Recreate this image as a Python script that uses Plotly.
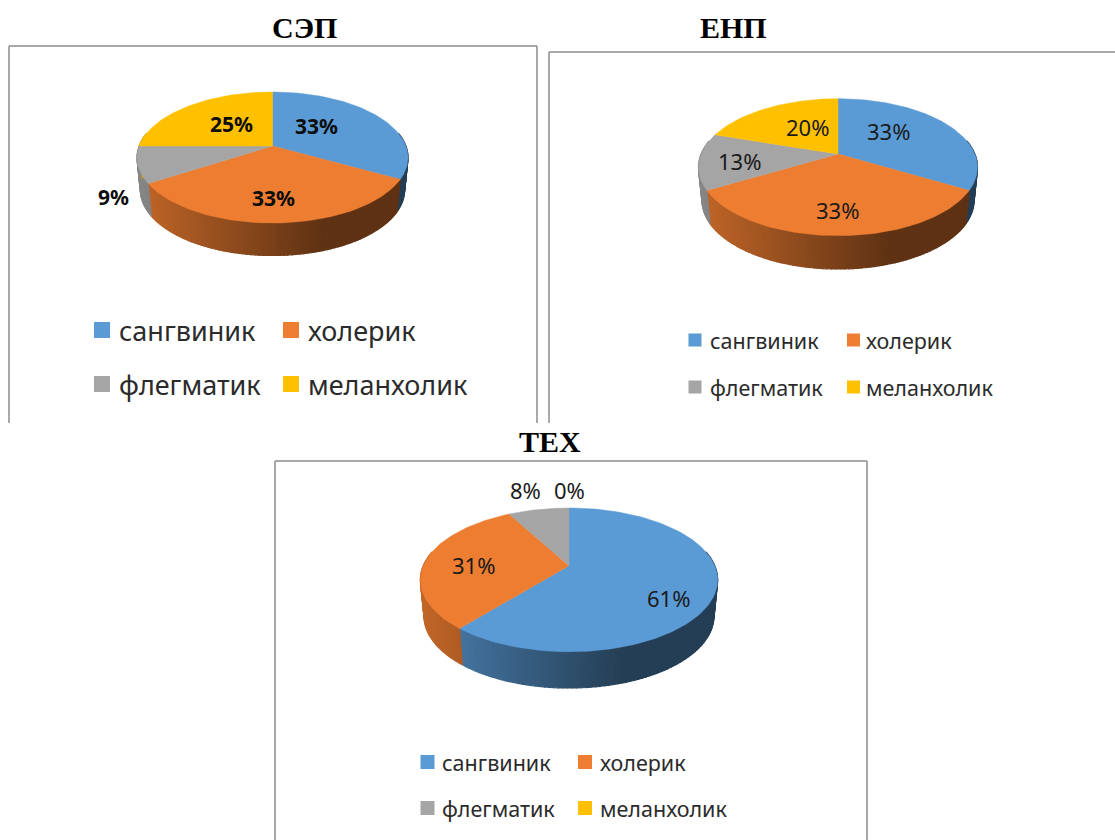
import math
import plotly.graph_objects as go

# ---- data ----
categories = ["сангвиник", "холерик", "флегматик", "меланхолик"]
sep_values = [33, 33, 9, 25]
enp_values = [33.3, 33.3, 13.3, 20]
tex_values = [61, 31, 8, 0]
colors = ["#5B9BD5", "#ED7D31", "#A5A5A5", "#FFC000"]
titles = ["СЭП", "ЕНП", "ТЕХ"]


def rgb(hexc, f):
    return "rgb(%d,%d,%d)" % tuple(round(int(hexc[i:i + 2], 16) * f) for i in (1, 3, 5))


class Pie:
    def __init__(s, values, title, cx, apex, xmin, xmax, top, front, bottom, **kw):
        s.values, s.title, s.cx, s.apex = values, title, cx, apex
        s.xmin, s.xmax = xmin, xmax
        back, fr = apex - top, front - apex
        s.k = (fr - back) / (fr + back)
        s.a = back * (1 + s.k)
        s.rx = (xmax - xmin) / 2
        s.b = s.rx * math.sqrt(1 - s.k ** 2)
        s.depth = bottom - front
        s.__dict__.update(kw)

    def point(s, deg, lower=False):
        th = math.radians(deg)
        u, v = math.sin(th), math.cos(th)
        w = 1 + s.k * v
        x, y = s.cx + s.b * u / w, s.apex - s.a * v / w
        if lower:
            x, y = s.cx + 0.975 * (x - s.cx), y + s.depth
        return x, y

    def shade(s, x):
        t = (x - s.xmin) / (s.xmax - s.xmin)
        return max(0.40, 0.82 - (0.42 / 0.68) * t)


pies = [
    Pie(sep_values, titles[0], 272.5, 146, 137, 408, 92, 223, 255.5,
        title_xy=(304, 27), title_size=30, label_size=21, label_color="#0d0d0d",
        label_bold=True,
        label_xy=[(316, 126), (273, 198), (113, 197), (231, 124)],
        legend_size=27, sw=16, legend_rows=(330, 384),
        legend_sw=(102, 291), legend_tx=(117, 306)),
    Pie(enp_values, titles[1], 838, 154, 698.5, 977.5, 98.7, 235.7, 269,
        title_xy=(733, 27), title_size=30, label_size=22, label_color="#1a1a1a",
        label_bold=False,
        label_xy=[(888, 131), (837.5, 210), (739, 161), (807.5, 127)],
        legend_size=21.5, sw=13, legend_rows=(340, 387),
        legend_sw=(695, 853.5), legend_tx=(707.5, 864)),
    Pie(tex_values, titles[2], 569, 565.7, 420.7, 718, 508, 651.7, 688,
        title_xy=(550, 441.5), title_size=30, label_size=22, label_color="#1a1a1a",
        label_bold=False,
        label_xy=[(668, 598), (473.5, 565), (525, 490), (569, 490)],
        legend_size=21.5, sw=14, legend_rows=(762, 808),
        legend_sw=(427.5, 585), legend_tx=(439.5, 597.5)),
]

fig = go.Figure()
annotations = []
SANS = "Noto Sans"

for p in pies:
    total = sum(p.values)
    start = 0.0
    spans = []
    for v in p.values:
        end = start + 360.0 * v / total
        spans.append((start, end))
        start = end

    # side wall: narrow strips, each with its own shade
    for (a0, a1), col in zip(spans, colors):
        lo, hi = max(a0, 78.0), min(a1, 282.0)
        if hi <= lo:
            continue
        n = max(1, int((hi - lo) / 1.5))
        for i in range(n):
            d0 = lo + (hi - lo) * i / n
            d1 = lo + (hi - lo) * (i + 1) / n
            pts = [p.point(d0), p.point(d1), p.point(d1, True), p.point(d0, True)]
            xs = [q[0] for q in pts] + [pts[0][0]]
            ys = [q[1] for q in pts] + [pts[0][1]]
            c = rgb(col, p.shade(sum(xs[:4]) / 4))
            fig.add_trace(go.Scatter(x=xs, y=ys, mode="lines", fill="toself", fillcolor=c,
                                     line=dict(color=c, width=1.2), hoverinfo="skip",
                                     showlegend=False))

    # top face
    for (a0, a1), col, name, v in zip(spans, colors, categories, p.values):
        if a1 <= a0:
            continue
        n = max(2, int((a1 - a0) / 1.5))
        pts = [p.point(a0 + (a1 - a0) * i / n) for i in range(n + 1)]
        xs = [p.cx] + [q[0] for q in pts] + [p.cx]
        ys = [p.apex] + [q[1] for q in pts] + [p.apex]
        fig.add_trace(go.Scatter(x=xs, y=ys, mode="lines", fill="toself", fillcolor=col,
                                 line=dict(color=col, width=0.5), name=name,
                                 text=f"{name}: {v:.0f}%", hoverinfo="text",
                                 showlegend=False))

    # data labels
    for v, (lx, ly) in zip(p.values, p.label_xy):
        txt = f"{v:.0f}%"
        annotations.append(dict(x=lx, y=ly, text=f"<b>{txt}</b>" if p.label_bold else txt,
                                showarrow=False, xanchor="center", yanchor="middle",
                                font=dict(family=SANS, size=p.label_size, color=p.label_color)))

    # title
    annotations.append(dict(x=p.title_xy[0], y=p.title_xy[1], text=f"<b>{p.title}</b>",
                            showarrow=False, xanchor="center", yanchor="middle",
                            font=dict(family="Liberation Serif", size=p.title_size, color="#000000")))

    # legend
    for i, (name, col) in enumerate(zip(categories, colors)):
        row, column = i // 2, i % 2
        fig.add_trace(go.Scatter(x=[p.legend_sw[column]], y=[p.legend_rows[row]], mode="markers",
                                 marker=dict(symbol="square", size=p.sw, color=col, line=dict(width=0)),
                                 name=name, hoverinfo="skip", showlegend=False))
        annotations.append(dict(x=p.legend_tx[column], y=p.legend_rows[row], text=name,
                                showarrow=False, xanchor="left", yanchor="middle",
                                font=dict(family=SANS, size=p.legend_size, color="#2b2b2b")))

# chart frames (each open where the picture cuts it)
frame = dict(type="line", line=dict(color="#8c8c8c", width=1.5), layer="below")
shapes = [
    dict(frame, x0=9, x1=9, y0=46, y1=423),
    dict(frame, x0=9, x1=537, y0=46, y1=46),
    dict(frame, x0=537, x1=537, y0=46, y1=423),
    dict(frame, x0=549, x1=549, y0=52, y1=423),
    dict(frame, x0=549, x1=1115, y0=52, y1=52),
    dict(frame, x0=275, x1=275, y0=461, y1=840),
    dict(frame, x0=275, x1=867, y0=461, y1=461),
    dict(frame, x0=867, x1=867, y0=461, y1=840),
]

hidden = dict(visible=False, fixedrange=True)
fig.update_layout(
    width=1115, height=840,
    margin=dict(l=0, r=0, t=0, b=0),
    paper_bgcolor="white", plot_bgcolor="white",
    xaxis=dict(range=[0, 1115], **hidden),
    yaxis=dict(range=[840, 0], **hidden),
    showlegend=False,
    annotations=annotations,
    shapes=shapes,
)
fig.write_html("out.html", config=dict(displayModeBar=False),
               post_script="document.body.style.margin='0';document.body.style.overflow='hidden';")
